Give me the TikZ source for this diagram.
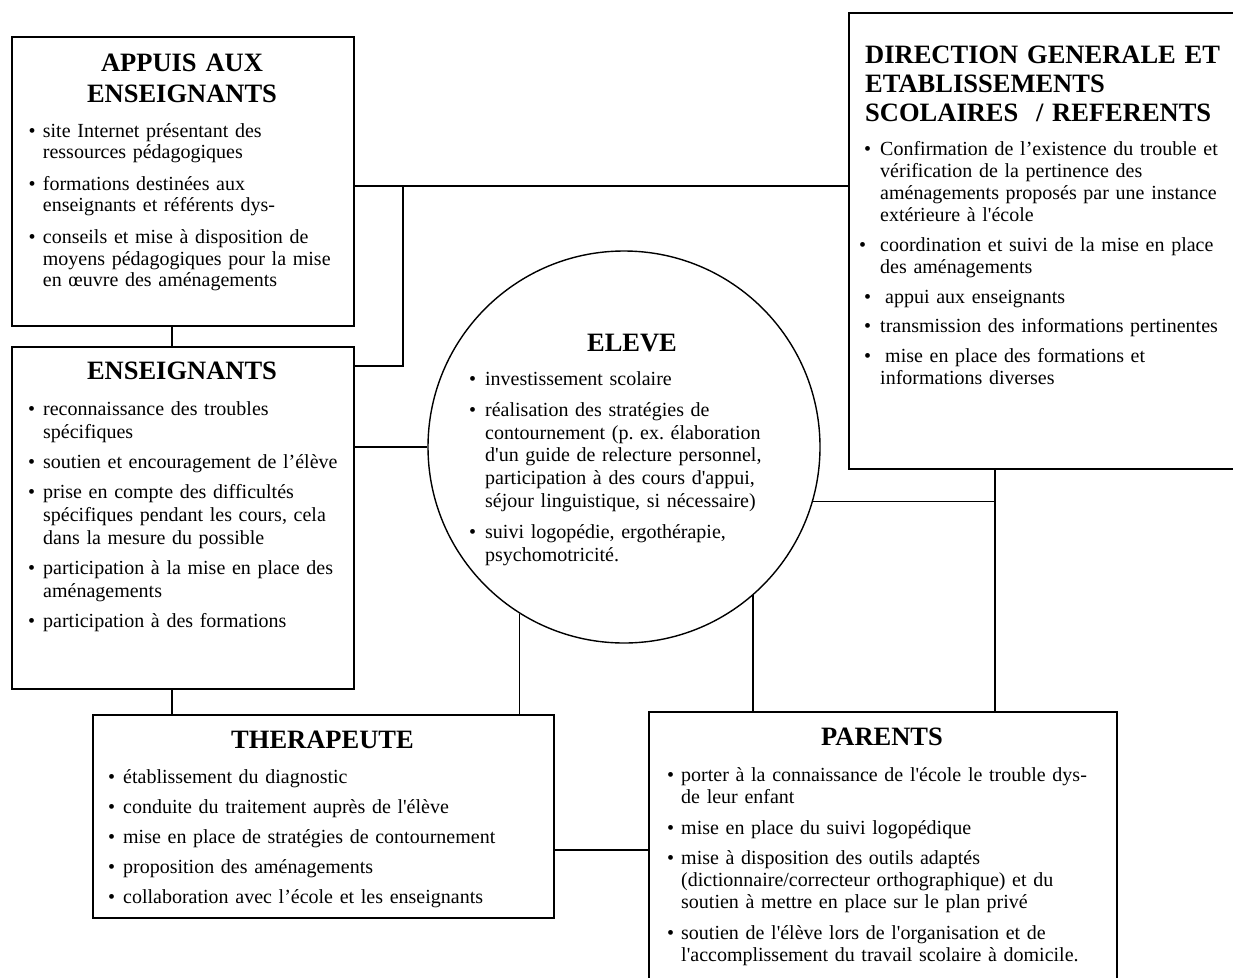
\documentclass[tikz,border=0pt]{standalone}
\usepackage{fontspec}
\setmainfont{Liberation Serif}[Ligatures=TeXOff]
\frenchspacing
\newcommand{\bitem}[2][14pt]{\hangindent=#1\hangafter=1\noindent\makebox[#1][l]{\textbullet}#2\par}
\newcommand{\bitemshift}[3]{\hangindent=#1\hangafter=1\noindent\hspace*{#2}\makebox[\dimexpr#1-#2\relax][l]{\textbullet}#3\par}
\begin{document}
\begin{tikzpicture}[x=1pt,y=-1pt,
  box/.style={draw, line width=1.6pt, rectangle, inner sep=0pt, anchor=north west},
  conn/.style={line width=1.4pt},
  head/.style={inner sep=0pt, anchor=base, align=center, text width=380pt, font=\bfseries\fontsize{26.5}{31}\selectfont},
  items/.style={inner sep=0pt, anchor=base west, text width=460pt}]
\useasboundingbox (0,0) rectangle (1233,977);

% boxes
\node[box, minimum width=342pt, minimum height=289pt] (appuis) at (11,36) {};
\node[box, minimum width=342pt, minimum height=342pt] (ens) at (11,346) {};
\node[box, minimum width=420pt, minimum height=456pt] (dir) at (848,12) {};
\node[box, minimum width=461pt, minimum height=203pt] (ther) at (92,714) {};
\node[box, minimum width=468pt, minimum height=320pt] (par) at (648,711) {};
\node[circle, draw, line width=1.4pt, minimum size=392pt, inner sep=0pt] (eleve) at (624,447) {};

% helper coordinates
\coordinate (x172) at (172,0);
\coordinate (x995) at (995,0);
\coordinate (y186) at (0,186);
\coordinate (y850) at (0,850);
\coordinate (j1) at (403,186);
\coordinate (j2) at (403,366);

% connectors
\draw[conn] (appuis.south -| x172) -- (ens.north -| x172);
\draw[conn] (ens.south -| x172) -- (ther.north -| x172);
\draw[conn] (appuis.east |- y186) -- (dir.west |- y186);
\draw[conn] (j1) -- (j2) -- (ens.east |- j2);
\draw[conn] (ens.east |- eleve.west) -- (eleve.west);
\draw[conn] (eleve.-16) -- (eleve.-16 -| x995);
\draw[conn] (dir.south -| x995) -- (par.north -| x995);
\draw[conn] (eleve.-122.7) -- (eleve.-122.7 |- ther.north);
\draw[conn] (eleve.-49.2) -- (eleve.-49.2 |- par.north);
\draw[conn] (ther.east |- y850) -- (par.west |- y850);

% headings
\node[head] (appuisT) at (182,71) {APPUIS AUX\\ENSEIGNANTS};
\node[head] (ensT) at (182,379) {ENSEIGNANTS};
\node[head, anchor=base west, align=left, text width=370pt, font=\bfseries\fontsize{26.5}{29}\selectfont] (dirT) at (865,63.3) {DIRECTION GENERALE ET\\ETABLISSEMENTS\\SCOLAIRES~~/ REFERENTS};
\node[head] (eleveT) at (632,351) {ELEVE};
\node[head] (therT) at (322.5,748) {THERAPEUTE};
\node[head] (parT) at (882,745) {PARENTS};

% item lists
\node[items, font=\fontsize{20}{21.7}\selectfont] (appuisL) at (28.5,137) {\setlength{\parskip}{9.8pt}%
\bitem[14.2pt]{site Internet présentant des\newline ressources pédagogiques}%
\bitem[14.2pt]{formations destinées aux\newline enseignants et référents dys-}%
\bitem[14.2pt]{conseils et mise à disposition de\newline moyens pédagogiques pour la mise\newline en œuvre des aménagements}};

\node[items, font=\fontsize{20}{23}\selectfont] (ensL) at (28,415) {\setlength{\parskip}{7pt}%
\bitem[15pt]{reconnaissance des troubles\newline spécifiques}%
\bitem[15pt]{soutien et encouragement de l’élève}%
\bitem[15pt]{prise en compte des difficultés\newline spécifiques pendant les cours, cela\newline dans la mesure du possible}%
\bitem[15pt]{participation à la mise en place des\newline aménagements}%
\bitem[15pt]{participation à des formations}};

\node[items, font=\fontsize{20}{22.3}\selectfont] (dirL) at (864,155) {\setlength{\parskip}{7.2pt}%
\bitem[16pt]{Confirmation de l’existence du trouble et\newline vérification de la pertinence des\newline aménagements proposés par une instance\newline extérieure à l'école}%
\bitemshift{16pt}{-5pt}{coordination et suivi de la mise en place\newline des aménagements}%
\bitem[16pt]{\hspace*{5pt}appui aux enseignants}%
\bitem[16pt]{transmission des informations pertinentes}%
\bitem[16pt]{\hspace*{5pt}mise en place des formations et\newline informations diverses}};

\node[items, font=\fontsize{20}{22.6}\selectfont] (eleveL) at (469,385) {\setlength{\parskip}{9pt}%
\bitem[16pt]{investissement scolaire}%
\bitem[16pt]{réalisation des stratégies de\newline contournement (p. ex. élaboration\newline d'un guide de relecture personnel,\newline participation à des cours d'appui,\newline séjour linguistique, si nécessaire)}%
\bitem[16pt]{suivi logopédie, ergothérapie,\newline psychomotricité.}};

\node[items, font=\fontsize{20}{22}\selectfont] (therL) at (108,783) {\setlength{\parskip}{8pt}%
\bitem[15pt]{établissement du diagnostic}%
\bitem[15pt]{conduite du traitement auprès de l'élève}%
\bitem[15pt]{mise en place de stratégies de contournement}%
\bitem[15pt]{proposition des aménagements}%
\bitem[15pt]{collaboration avec l’école et les enseignants}};

\node[items, font=\fontsize{20}{22}\selectfont] (parL) at (667,781.7) {\setlength{\parskip}{8.5pt}%
\bitem[14pt]{porter à la connaissance de l'école le trouble dys-\newline de leur enfant}%
\bitem[14pt]{mise en place du suivi logopédique}%
\bitem[14pt]{mise à disposition des outils adaptés\newline (dictionnaire/correcteur orthographique) et du\newline soutien à mettre en place sur le plan privé}%
\bitem[14pt]{soutien de l'élève lors de l'organisation et de\newline l'accomplissement du travail scolaire à domicile.}};
\end{tikzpicture}
\end{document}
